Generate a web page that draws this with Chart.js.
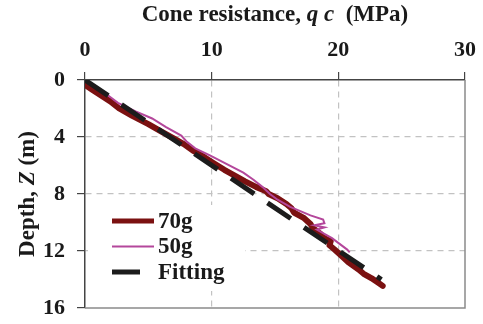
<!DOCTYPE html>
<html lang="en">
<head>
    <meta charset="UTF-8">
    <title>Cone resistance vs depth</title>
    <script src="https://cdn.jsdelivr.net/npm/chart.js"></script>
    <style>
        html, body {
            margin: 0;
            padding: 0;
            background: #fff;
        }
        #coneChart {
            display: block;
        }
    </style>
</head>
<body>
    <canvas id="coneChart" width="483" height="324"></canvas>

    <script>
        // 70g test: depth (m) and cone resistance (MPa)
        const depth70 = [0.35, 0.7, 1.1, 1.5, 2.0, 2.5, 3.1, 3.6, 4.1, 4.5, 5.0, 5.4, 5.8, 6.3, 6.8, 7.1, 7.5, 7.8, 8.0, 8.3, 8.7, 9.0, 9.3, 9.7, 10.1, 10.4, 10.8, 11.1, 11.3, 11.6, 11.9, 12.3, 12.8, 13.3, 13.6, 13.9, 14.2, 14.45];
        const qc70 = [0.0, 0.6, 1.3, 2.0, 2.7, 3.7, 5.0, 6.0, 7.0, 7.8, 8.6, 9.4, 10.1, 11.0, 12.0, 12.6, 13.5, 14.3, 14.5, 15.2, 15.9, 16.3, 16.5, 17.3, 17.8, 18.0, 18.6, 18.9, 19.4, 19.3, 19.7, 20.2, 20.8, 21.6, 22.0, 22.6, 23.1, 23.5];

        // 50g test
        const depth50 = [0.05, 0.5, 1.0, 1.6, 2.2, 2.7, 3.3, 3.9, 4.3, 4.8, 5.3, 5.9, 6.5, 7.0, 7.5, 8.0, 8.4, 8.9, 9.2, 9.5, 9.8, 10.05, 10.2, 10.35, 10.5, 10.8, 11.1, 11.5, 11.9, 12.1];
        const qc50 = [0.0, 0.9, 1.7, 2.6, 4.0, 5.3, 6.4, 7.6, 8.0, 8.7, 9.9, 11.2, 12.5, 13.3, 14.0, 14.6, 15.2, 16.2, 17.0, 17.8, 18.8, 18.9, 18.1, 18.9, 18.3, 18.9, 19.5, 20.1, 20.7, 20.9];

        // linear fitting line
        const depthFit = [0, 14.0];
        const qcFit = [0, 23.4];

        const seriesNames = ['70g', '50g', 'Fitting'];
        const qcTicks = [0, 10, 20, 30];
        const depthTicks = [0, 4, 8, 12, 16];

        const serif = '"Liberation Serif", "Times New Roman", serif';

        function toPoints(qs, zs) {
            return qs.map((q, i) => ({ x: q, y: zs[i] }));
        }

        // draws a line of text made of differently styled pieces, centred on cx
        function drawRich(ctx, parts, cx, y) {
            let total = 0;
            parts.forEach(p => {
                ctx.font = p.font;
                total += ctx.measureText(p.text).width;
            });
            let x = cx - total / 2;
            parts.forEach(p => {
                ctx.font = p.font;
                ctx.fillText(p.text, x, y);
                x += ctx.measureText(p.text).width;
            });
        }

        const axisTitles = {
            id: 'axisTitles',
            afterDraw(chart) {
                const ctx = chart.ctx;
                const area = chart.chartArea;
                const bold = 'bold 23px ' + serif;
                const boldItalic = 'italic bold 23px ' + serif;
                ctx.save();
                ctx.fillStyle = '#1a1a1a';
                ctx.textBaseline = 'alphabetic';
                drawRich(ctx, [
                    { text: 'Cone resistance, ', font: bold },
                    { text: 'q c', font: boldItalic },
                    { text: '  (MPa)', font: bold }
                ], (area.left + area.right) / 2, 21);

                ctx.translate(34, (area.top + area.bottom) / 2);
                ctx.rotate(-Math.PI / 2);
                drawRich(ctx, [
                    { text: 'Depth, ', font: bold },
                    { text: 'Z', font: boldItalic },
                    { text: ' (m)', font: bold }
                ], 0, 0);
                ctx.restore();
            }
        };

        // right and bottom edges of the plot frame
        const frame = {
            id: 'frame',
            beforeDatasetsDraw(chart) {
                const { ctx, chartArea: a } = chart;
                ctx.save();
                ctx.strokeStyle = '#8a8a8a';
                ctx.lineWidth = 1.5;
                ctx.beginPath();
                ctx.moveTo(a.left, a.bottom);
                ctx.lineTo(a.right, a.bottom);
                ctx.lineTo(a.right, a.top);
                ctx.stroke();
                ctx.restore();
            }
        };

        // legend sitting inside the plot, lower left, on a white box
        const insideLegend = {
            id: 'insideLegend',
            afterDatasetsDraw(chart) {
                const ctx = chart.ctx;
                const x0 = 112, len = 42, top = 221, step = 25.5;
                ctx.save();
                ctx.fillStyle = '#fff';
                ctx.fillRect(88, 205, 157, 86);
                chart.data.datasets.forEach((ds, i) => {
                    const y = top + i * step;
                    ctx.strokeStyle = ds.borderColor;
                    ctx.lineWidth = Math.min(ds.borderWidth, 5);
                    ctx.setLineDash(ds.borderDash || []);
                    ctx.lineCap = 'butt';
                    ctx.beginPath();
                    ctx.moveTo(x0, y);
                    ctx.lineTo(x0 + len, y);
                    ctx.stroke();
                    ctx.setLineDash([]);
                    ctx.fillStyle = '#1a1a1a';
                    ctx.font = 'bold 23px ' + serif;
                    ctx.textBaseline = 'middle';
                    ctx.fillText(ds.label, x0 + len + 4, y + 1);
                });
                ctx.restore();
            }
        };

        new Chart(document.getElementById('coneChart'), {
            type: 'scatter',
            data: {
                datasets: [
                    {
                        label: seriesNames[0],
                        data: toPoints(qc70, depth70),
                        showLine: true,
                        borderColor: '#7b1111',
                        borderWidth: 6,
                        borderJoinStyle: 'round',
                        borderCapStyle: 'round',
                        pointRadius: 0,
                        order: 2
                    },
                    {
                        label: seriesNames[1],
                        data: toPoints(qc50, depth50),
                        showLine: true,
                        borderColor: '#b4479b',
                        borderWidth: 2,
                        pointRadius: 0,
                        order: 1
                    },
                    {
                        label: seriesNames[2],
                        data: toPoints(qcFit, depthFit),
                        showLine: true,
                        borderColor: '#1c1c1c',
                        borderWidth: 5,
                        borderDash: [28, 16],
                        borderCapStyle: 'butt',
                        pointRadius: 0,
                        order: 0
                    }
                ]
            },
            options: {
                responsive: false,
                animation: false,
                layout: {
                    padding: { left: 0, right: 18, top: 0, bottom: 16 }
                },
                plugins: {
                    legend: { display: false },
                    tooltip: { enabled: false }
                },
                scales: {
                    x: {
                        type: 'linear',
                        position: 'top',
                        min: 0,
                        max: 30,
                        afterBuildTicks: s => { s.ticks = qcTicks.map(v => ({ value: v })); },
                        afterFit: s => {
                            s.height = 80;
                            s.paddingLeft = 0;
                            s.paddingRight = 0;
                        },
                        ticks: {
                            font: { family: serif, size: 22, weight: 'bold' },
                            color: '#1a1a1a',
                            padding: 8,
                            maxRotation: 0
                        },
                        grid: {
                            color: c => (c.tick && (c.tick.value === 0 || c.tick.value === 30)) ? 'rgba(0,0,0,0)' : '#c2c2c2',
                            lineWidth: 1.2,
                            tickColor: '#444',
                            tickLength: 8,
                            tickWidth: 1.2
                        },
                        border: { color: '#444', width: 1.5, dash: [6, 5] }
                    },
                    y: {
                        type: 'linear',
                        reverse: true,
                        min: 0,
                        max: 16,
                        afterBuildTicks: s => { s.ticks = depthTicks.map(v => ({ value: v })); },
                        afterFit: s => {
                            s.width = 85;
                            s.paddingTop = 0;
                            s.paddingBottom = 0;
                        },
                        ticks: {
                            font: { family: serif, size: 22, weight: 'bold' },
                            color: '#1a1a1a',
                            padding: 12
                        },
                        grid: {
                            color: c => (c.tick && (c.tick.value === 0 || c.tick.value === 16)) ? 'rgba(0,0,0,0)' : '#c2c2c2',
                            lineWidth: 1.2,
                            tickColor: '#444',
                            tickLength: 8,
                            tickWidth: 1.2
                        },
                        border: { color: '#444', width: 1.5, dash: [6, 5] }
                    }
                }
            },
            plugins: [frame, insideLegend, axisTitles]
        });
    </script>
</body>
</html>
